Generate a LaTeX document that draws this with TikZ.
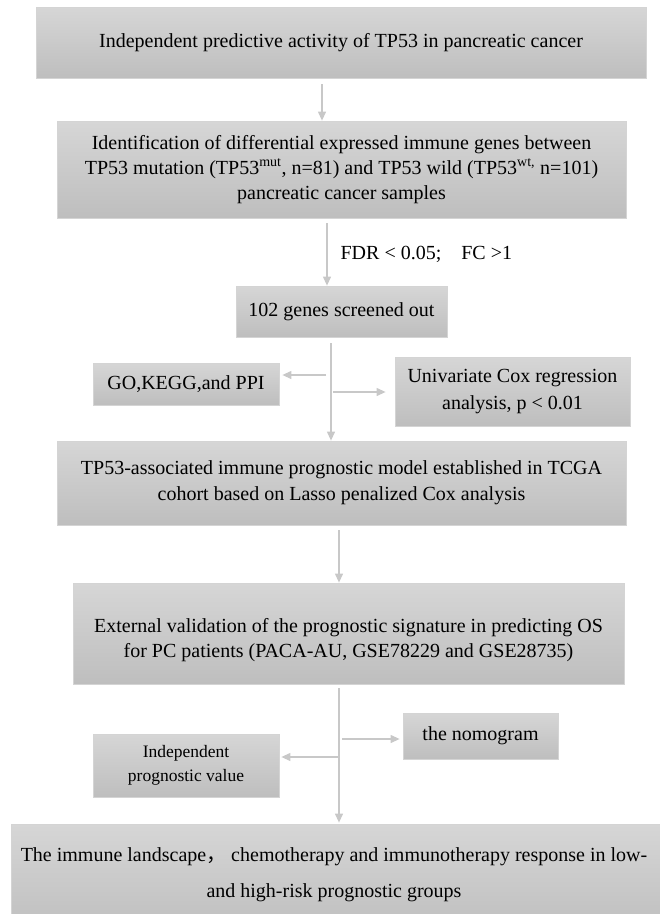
\documentclass[tikz,border=0pt]{standalone}
\usepackage{fontspec}
\setmainfont{Liberation Serif}
\newfontfamily\cjk{Noto Sans CJK SC}
\usetikzlibrary{arrows.meta}
\definecolor{boxtop}{HTML}{D6D6D6}
\definecolor{boxbot}{HTML}{BEBEBE}
\definecolor{boxline}{HTML}{D4D4D4}
\definecolor{arrc}{HTML}{C8C8C8}
\begin{document}
\begin{tikzpicture}[x=1pt,y=-1pt,
  box/.style={rectangle, draw=boxline, line width=0.8pt, top color=boxtop, bottom color=boxbot,
    align=center, inner sep=0pt, font=\fontsize{20}{25}\selectfont},
  smallbox/.style={box, font=\fontsize{17.5}{24}\selectfont},
  arr/.style={draw=arrc, line width=1.2pt, -{Triangle[length=9pt,width=8pt]}},
  lbl/.style={font=\fontsize{20}{25}\selectfont, inner sep=0pt, align=center}]
\path[use as bounding box] (0,0) rectangle (660,914);

\node[box, minimum width=610pt, minimum height=71pt] (b1) at (341,42.5)
  {Independent predictive activity of TP53 in pancreatic cancer};
\node[box, minimum width=569pt, minimum height=97pt] (b2) at (341.5,169.5)
  {Identification of differential expressed immune genes between\\
   TP53 mutation (TP53\textsuperscript{mut}, n=81) and TP53 wild (TP53\textsuperscript{wt,} n=101)\\
   pancreatic cancer samples};
\node[box, minimum width=211pt, minimum height=51pt] (b3) at (341.5,311.5)
  {102 genes screened out};
\node[box, minimum width=186pt, minimum height=42pt] (go) at (186,384)
  {GO,KEGG,and PPI};
\node[box, font=\fontsize{20}{27}\selectfont, minimum width=235pt, minimum height=69pt] (uni) at (512.5,391.5)
  {Univariate Cox regression\\ analysis, p < 0.01};
\node[box, font=\fontsize{20}{26}\selectfont, minimum width=569pt, minimum height=84pt] (b4) at (341.5,483)
  {TP53-associated immune prognostic model established in TCGA\\
   cohort based on Lasso penalized Cox analysis};
\node[box, minimum width=551pt, minimum height=101pt] (b5) at (348.5,633.5) {};
\node[lbl] (t5) at ([yshift=-7pt]b5.center)
  {External validation of the prognostic signature in predicting OS\\
   for PC patients (PACA-AU, GSE78229 and GSE28735)};
\node[box, minimum width=155pt, minimum height=46pt] (nomo) at (480.5,736)
  {the nomogram};
\node[smallbox, minimum width=186pt, minimum height=63pt] (indep) at (186,765.5)
  {Independent\\ prognostic value};
\node[box, minimum width=669pt, minimum height=111pt] (b6) at (345.5,879.5) {};
\node[lbl, font=\fontsize{20}{36}\selectfont] (t6) at (334,875)
  {The immune landscape{\cjk ，} chemotherapy and immunotherapy response in low-\\
   and high-risk prognostic groups};

\coordinate (s1) at (322,84);
\draw[arr] (s1) -- (s1 |- b2.north);
\coordinate (s2) at (327,223);
\draw[arr] (s2) -- (s2 |- b3.north)
  node[lbl, midway, anchor=west, xshift=13pt] {FDR < 0.05;\quad FC >1};
\coordinate (s3) at (331,343);
\draw[arr] (s3) -- (s3 |- b4.north);
\coordinate (gL) at (326,375);
\draw[arr, shorten >=3pt] (gL) -- (gL -| go.east);
\coordinate (uR) at (333,392);
\draw[arr, shorten >=9pt] (uR) -- (uR -| uni.west);
\coordinate (s4) at (339,530);
\draw[arr] (s4) -- (s4 |- b5.north);
\coordinate (s5) at (339,688);
\draw[arr, shorten >=1pt] (s5) -- (s5 |- b6.north);
\coordinate (nR) at (342,739);
\draw[arr, shorten >=3pt] (nR) -- (nR -| nomo.west);
\coordinate (iL) at (338,757);
\draw[arr, shorten >=2pt] (iL) -- (iL -| indep.east);
\end{tikzpicture}
\end{document}
